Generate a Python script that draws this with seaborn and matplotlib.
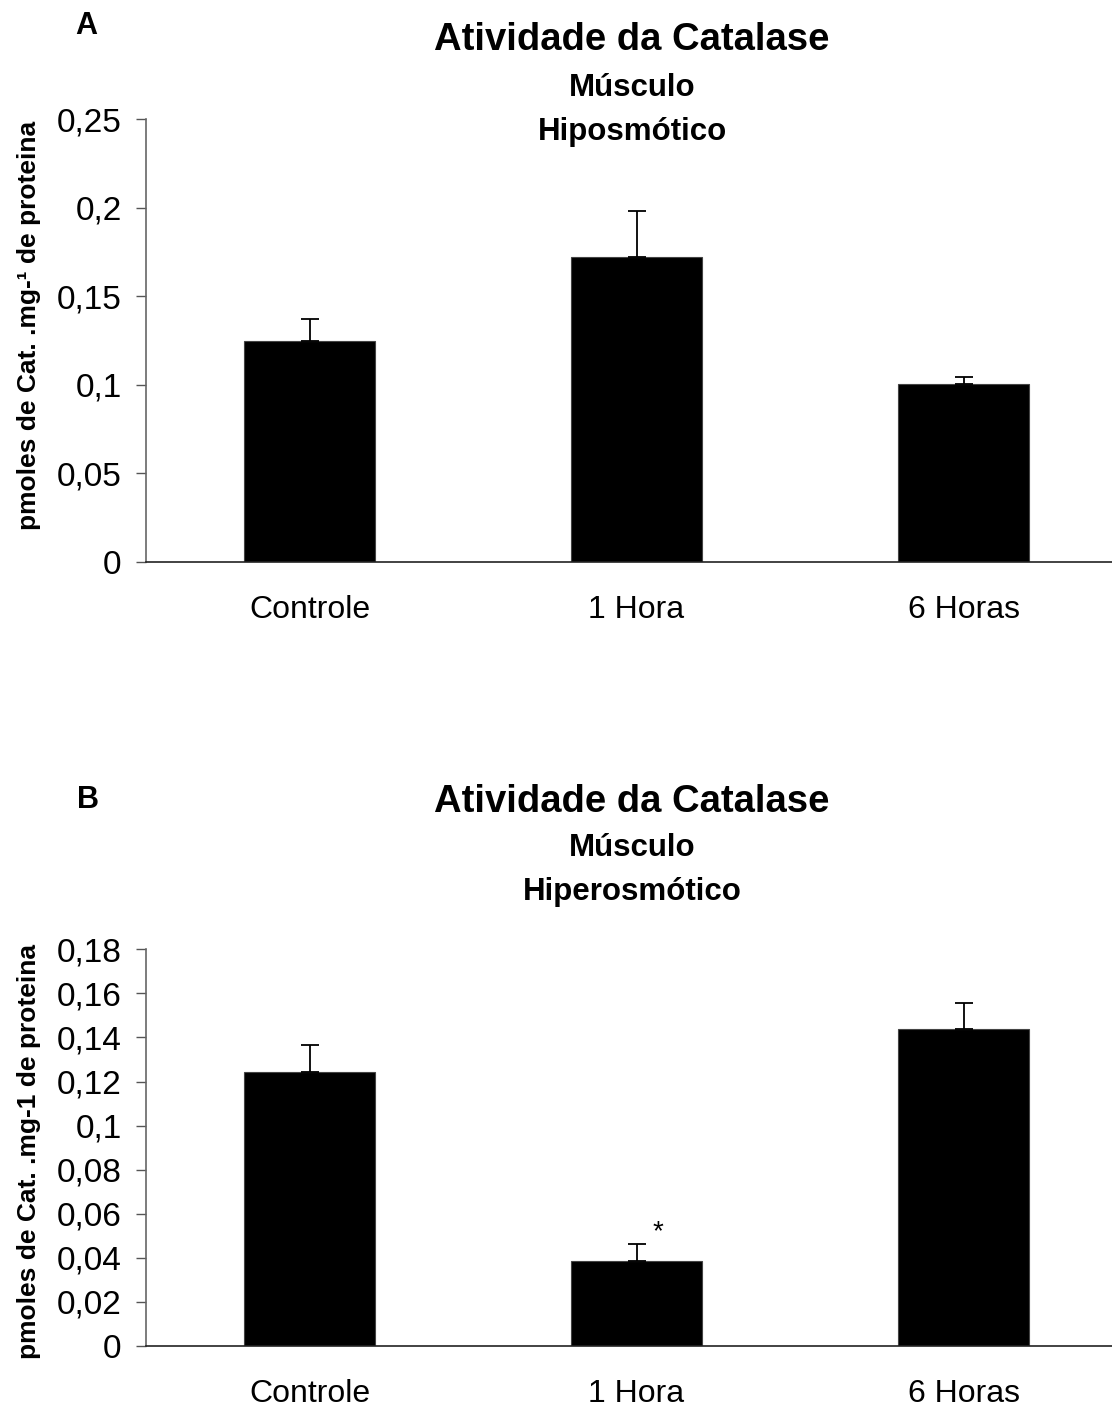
import numpy as np
import matplotlib
matplotlib.use("Agg")
import matplotlib.pyplot as plt
import seaborn as sns

# Catalase activity in muscle tissue (mean and upper error)
categories = ["Controle", "1 Hora", "6 Horas"]

hipo_mean = [0.1245, 0.1724, 0.1004]
hipo_err = [0.0126, 0.0255, 0.0042]

hiper_mean = [0.1245, 0.0386, 0.1437]
hiper_err = [0.0119, 0.0077, 0.0119]

hipo_ticks = [0, 0.05, 0.1, 0.15, 0.2, 0.25]
hipo_ticklabels = ["0", "0,05", "0,1", "0,15", "0,2", "0,25"]
hiper_ticks = [0, 0.02, 0.04, 0.06, 0.08, 0.1, 0.12, 0.14, 0.16, 0.18]
hiper_ticklabels = ["0", "0,02", "0,04", "0,06", "0,08", "0,1", "0,12", "0,14", "0,16", "0,18"]

sns.set_style("white")
plt.rcParams["font.family"] = ["Liberation Sans", "DejaVu Sans"]
plt.rcParams["text.color"] = "black"
plt.rcParams["axes.labelcolor"] = "black"
plt.rcParams["xtick.labelcolor"] = "black"
plt.rcParams["ytick.labelcolor"] = "black"

W, H = 1112, 1412
fig = plt.figure(figsize=(W / 100, H / 100), dpi=100)


def px_axes(left, top, width, height):
    return fig.add_axes([left / W, 1 - (top + height) / H, width / W, height / H])


def draw_panel(ax, means, errs, ticks, ticklabels, ylabel, label_y=0.5):
    sns.barplot(x=categories, y=means, color="black", width=0.4,
                saturation=1, errorbar=None, ax=ax, edgecolor="#444444",
                linewidth=0.8)
    pos = np.arange(len(categories))
    ax.errorbar(pos, means, yerr=[np.zeros(len(means)), errs], fmt="none",
                ecolor="black", elinewidth=1.3, capsize=6.8, capthick=1.3)
    ax.set_xlim(-0.5, len(categories) - 0.5)
    ax.set_ylim(ticks[0], ticks[-1])
    ax.set_yticks(ticks)
    ax.set_yticklabels(ticklabels, fontsize=24)
    ax.set_xticks(pos)
    ax.set_xticklabels(categories, fontsize=23)
    ax.set_xticks(np.arange(-0.5, len(categories), 1.0), minor=True)
    ax.tick_params(axis="x", which="major", length=0, pad=24)
    ax.tick_params(axis="x", which="minor", length=7.5, width=1.0,
                   direction="out", color="#333333")
    ax.tick_params(axis="y", which="major", length=7.5, width=1.0,
                   direction="out", color="#555555", pad=10, left=True)
    ax.set_xlabel("")
    ax.set_ylabel(ylabel, fontsize=19, fontweight="bold")
    ax.yaxis.set_label_coords(-(146 - 41) / 981, label_y)
    for side in ["top", "right"]:
        ax.spines[side].set_visible(False)
    ax.spines["left"].set_color("#666666")
    ax.spines["left"].set_linewidth(1.2)
    ax.spines["bottom"].set_color("#222222")
    ax.spines["bottom"].set_linewidth(1.2)
    ax.spines["left"].set_bounds(ticks[0], ticks[-1])


ax_a = px_axes(146, 119.3, 981, 442.4)
draw_panel(ax_a, hipo_mean, hipo_err, hipo_ticks, hipo_ticklabels,
           "pmoles de Cat. .mg-¹ de proteina", label_y=0.535)

ax_b = px_axes(146, 949.3, 981, 396.7)
draw_panel(ax_b, hiper_mean, hiper_err, hiper_ticks, hiper_ticklabels,
           "pmoles de Cat. .mg-1 de proteina", label_y=0.49)

# significance marker above the 1 Hora bar
ax_b.text(1.065, hiper_mean[1] + hiper_err[1] + 0.0055, "*", fontsize=20,
          ha="center", va="center")

# panel letters and titles
cx = 632 / W
fig.text(86 / W, 1 - 26 / H, "A", fontsize=22, fontweight="bold",
         ha="center", va="center")
fig.text(cx, 1 - 40 / H, "Atividade da Catalase", fontsize=27.5,
         fontweight="bold", ha="center", va="center")
fig.text(cx, 1 - 88 / H, "Músculo", fontsize=22.5, fontweight="bold",
         ha="center", va="center")
fig.text(cx, 1 - 132 / H, "Hiposmótico", fontsize=22.5, fontweight="bold",
         ha="center", va="center")

fig.text(88 / W, 1 - 800 / H, "B", fontsize=22, fontweight="bold",
         ha="center", va="center")
fig.text(cx, 1 - 802 / H, "Atividade da Catalase", fontsize=27.5,
         fontweight="bold", ha="center", va="center")
fig.text(cx, 1 - 848 / H, "Músculo", fontsize=22.5, fontweight="bold",
         ha="center", va="center")
fig.text(cx, 1 - 892 / H, "Hiperosmótico", fontsize=22.5, fontweight="bold",
         ha="center", va="center")

fig.savefig("out.png", dpi=100, facecolor="white")
